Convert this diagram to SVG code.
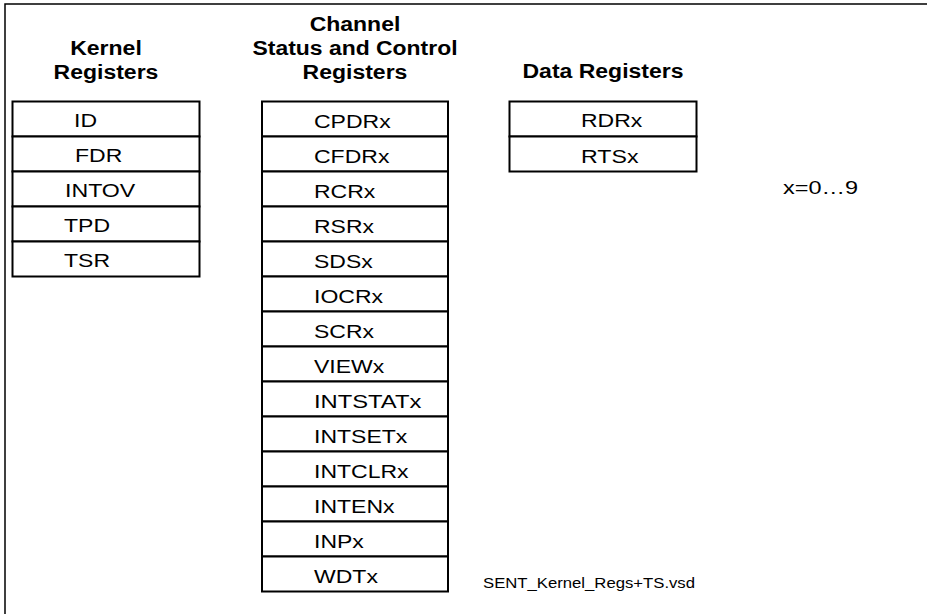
<svg xmlns="http://www.w3.org/2000/svg" width="927" height="614" viewBox="0 0 927 614">
<style>
.frame{stroke:#000;stroke-width:1.5;fill:none}
.cell{fill:#fff;stroke:#000;stroke-width:2}
.hdr{font-family:"Liberation Sans",Arial,sans-serif;font-weight:bold;font-size:20px;fill:#000;text-anchor:middle}
.reg{font-family:"Liberation Sans",Arial,sans-serif;font-size:19px;fill:#000}
.note{font-family:"Liberation Sans",Arial,sans-serif;font-size:19px;fill:#000}
.file{font-family:"Liberation Sans",Arial,sans-serif;font-size:14px;fill:#000}
</style>
<rect width="927" height="614" fill="#fff"/>
<path class="frame" d="M5,614 V4 H927"/>

<g id="kernel-header">
<text class="hdr" x="106" y="55" textLength="71.6" lengthAdjust="spacingAndGlyphs">Kernel</text>
<text class="hdr" x="106" y="79" textLength="104.8" lengthAdjust="spacingAndGlyphs">Registers</text>
</g>
<g id="channel-header">
<text class="hdr" x="355" y="31" textLength="90.7" lengthAdjust="spacingAndGlyphs">Channel</text>
<text class="hdr" x="355" y="55" textLength="205" lengthAdjust="spacingAndGlyphs">Status and Control</text>
<text class="hdr" x="355" y="79" textLength="104.8" lengthAdjust="spacingAndGlyphs">Registers</text>
</g>
<g id="data-header">
<text class="hdr" x="603" y="78" textLength="161" lengthAdjust="spacingAndGlyphs">Data Registers</text>
</g>

<g id="kernel-registers">
<g id="k-ID"><rect class="cell" x="12.5" y="101.5" width="187" height="35"/><text class="reg" x="74" y="127" textLength="23" lengthAdjust="spacingAndGlyphs">ID</text></g>
<g id="k-FDR"><rect class="cell" x="12.5" y="136.5" width="187" height="35"/><text class="reg" x="75" y="162" textLength="47.3" lengthAdjust="spacingAndGlyphs">FDR</text></g>
<g id="k-INTOV"><rect class="cell" x="12.5" y="171.5" width="187" height="35"/><text class="reg" x="65" y="197" textLength="70.3" lengthAdjust="spacingAndGlyphs">INTOV</text></g>
<g id="k-TPD"><rect class="cell" x="12.5" y="206.5" width="187" height="35"/><text class="reg" x="64" y="232" textLength="46" lengthAdjust="spacingAndGlyphs">TPD</text></g>
<g id="k-TSR"><rect class="cell" x="12.5" y="241.5" width="187" height="35"/><text class="reg" x="64" y="267" textLength="46" lengthAdjust="spacingAndGlyphs">TSR</text></g>
</g>

<g id="channel-registers">
<g id="c-CPDRx"><rect class="cell" x="262" y="101.5" width="186" height="35"/><text class="reg" x="314" y="127.5" textLength="76.7" lengthAdjust="spacingAndGlyphs">CPDRx</text></g>
<g id="c-CFDRx"><rect class="cell" x="262" y="136.5" width="186" height="35"/><text class="reg" x="314" y="162.5" textLength="75.4" lengthAdjust="spacingAndGlyphs">CFDRx</text></g>
<g id="c-RCRx"><rect class="cell" x="262" y="171.5" width="186" height="35"/><text class="reg" x="314" y="197.5" textLength="61.3" lengthAdjust="spacingAndGlyphs">RCRx</text></g>
<g id="c-RSRx"><rect class="cell" x="262" y="206.5" width="186" height="35"/><text class="reg" x="314" y="232.5" textLength="60" lengthAdjust="spacingAndGlyphs">RSRx</text></g>
<g id="c-SDSx"><rect class="cell" x="262" y="241.5" width="186" height="35"/><text class="reg" x="314" y="267.5" textLength="58.8" lengthAdjust="spacingAndGlyphs">SDSx</text></g>
<g id="c-IOCRx"><rect class="cell" x="262" y="276.5" width="186" height="35"/><text class="reg" x="314" y="302.5" textLength="69" lengthAdjust="spacingAndGlyphs">IOCRx</text></g>
<g id="c-SCRx"><rect class="cell" x="262" y="311.5" width="186" height="35"/><text class="reg" x="314" y="337.5" textLength="60" lengthAdjust="spacingAndGlyphs">SCRx</text></g>
<g id="c-VIEWx"><rect class="cell" x="262" y="346.5" width="186" height="35"/><text class="reg" x="314" y="372.5" textLength="70.3" lengthAdjust="spacingAndGlyphs">VIEWx</text></g>
<g id="c-INTSTATx"><rect class="cell" x="262" y="381.5" width="186" height="35"/><text class="reg" x="314" y="407.5" textLength="107.3" lengthAdjust="spacingAndGlyphs">INTSTATx</text></g>
<g id="c-INTSETx"><rect class="cell" x="262" y="416.5" width="186" height="35"/><text class="reg" x="314" y="442.5" textLength="93.3" lengthAdjust="spacingAndGlyphs">INTSETx</text></g>
<g id="c-INTCLRx"><rect class="cell" x="262" y="451.5" width="186" height="35"/><text class="reg" x="314" y="477.5" textLength="94.6" lengthAdjust="spacingAndGlyphs">INTCLRx</text></g>
<g id="c-INTENx"><rect class="cell" x="262" y="486.5" width="186" height="35"/><text class="reg" x="314" y="512.5" textLength="80.5" lengthAdjust="spacingAndGlyphs">INTENx</text></g>
<g id="c-INPx"><rect class="cell" x="262" y="521.5" width="186" height="35"/><text class="reg" x="314" y="547.5" textLength="49.8" lengthAdjust="spacingAndGlyphs">INPx</text></g>
<g id="c-WDTx"><rect class="cell" x="262" y="556.5" width="186" height="35"/><text class="reg" x="314" y="582.5" textLength="63.9" lengthAdjust="spacingAndGlyphs">WDTx</text></g>
</g>

<g id="data-registers">
<g id="d-RDRx"><rect class="cell" x="509.5" y="101.5" width="187" height="35"/><text class="reg" x="581" y="127" textLength="61.3" lengthAdjust="spacingAndGlyphs">RDRx</text></g>
<g id="d-RTSx"><rect class="cell" x="509.5" y="136.5" width="187" height="35"/><text class="reg" x="581" y="162.5" textLength="57.5" lengthAdjust="spacingAndGlyphs">RTSx</text></g>
</g>

<g id="index-note"><text class="note" x="783" y="194" textLength="75" lengthAdjust="spacingAndGlyphs">x=0…9</text></g>
<g id="file-name"><text class="file" x="483" y="588" textLength="212" lengthAdjust="spacingAndGlyphs">SENT_Kernel_Regs+TS.vsd</text></g>

<g id="connectors"></g>
</svg>
